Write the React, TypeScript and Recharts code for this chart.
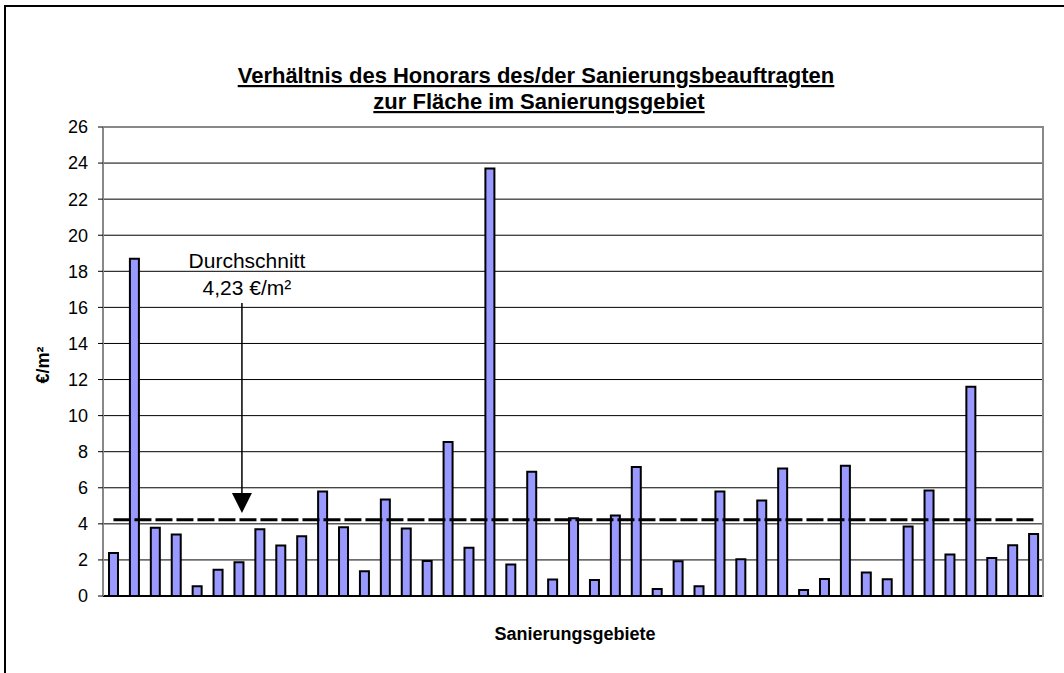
import {
  BarChart,
  Bar,
  XAxis,
  YAxis,
  CartesianGrid,
  ReferenceLine,
  ReferenceDot,
} from "recharts";

const FONT = "'Liberation Sans', Arial, sans-serif";

// Sanierungsgebiete 1..45, Honorar in €/m²
const areas = Array.from({ length: 45 }, (_, i) => String(i + 1));
const values = [
  2.39, 18.7, 3.78, 3.41, 0.54, 1.46, 1.87, 3.7, 2.8, 3.31,
  5.8, 3.81, 1.37, 5.35, 3.74, 1.94, 8.54, 2.67, 23.7, 1.74,
  6.89, 0.91, 4.31, 0.89, 4.46, 7.15, 0.39, 1.93, 0.54, 5.8,
  2.04, 5.3, 7.07, 0.33, 0.94, 7.22, 1.3, 0.93, 3.85, 5.85,
  2.3, 11.6, 2.11, 2.81, 3.44,
];
const yTicks = [0, 2, 4, 6, 8, 10, 12, 14, 16, 18, 20, 22, 24, 26];
const average = 4.23;

const data = areas.map((name, i) => ({ name, value: values[i] }));

const ArrowLine = (props: any) => {
  const { x1, y1, x2, y2 } = props;
  return <line x1={x1 + 3} y1={y1} x2={x2 + 3} y2={y2} stroke="#000" strokeWidth={1.5} />;
};

const ArrowHead = (props: any) => {
  const { cx, cy } = props;
  const x = cx + 3;
  return <polygon points={`${x - 10},${cy - 20} ${x + 10},${cy - 20} ${x},${cy}`} fill="#000" />;
};

const AvgLabel = (props: any) => {
  const { cx, cy } = props;
  return (
    <text x={cx + 8} y={cy} textAnchor="middle" fontFamily={FONT} fontSize={21} fill="#000">
      <tspan x={cx + 8}>Durchschnitt</tspan>
      <tspan x={cx + 8} dy={27}>4,23 €/m²</tspan>
    </text>
  );
};

export default function App() {
  return (
    <div
      style={{
        position: "absolute",
        left: 0,
        top: 0,
        width: 1064,
        height: 673,
        overflow: "hidden",
        background: "#fff",
        fontFamily: FONT,
      }}
    >
      <div
        style={{
          position: "absolute",
          left: 4,
          top: 5,
          width: 1200,
          height: 800,
          border: "2px solid #000",
        }}
      />
      <div style={{ position: "absolute", left: 0, top: 0 }}>
        <BarChart
          width={1064}
          height={673}
          data={data}
          margin={{ top: 127, right: 20, bottom: 76, left: 0 }}
          barCategoryGap={0}
        >
          <CartesianGrid vertical={false} stroke="#000" strokeWidth={1} />
          <XAxis
            dataKey="name"
            tick={false}
            tickLine={false}
            height={1}
            axisLine={{ stroke: "#000", strokeWidth: 2 }}
          />
          <YAxis
            domain={[0, 26]}
            ticks={yTicks}
            interval={0}
            width={103}
            tickSize={5}
            tickMargin={10}
            axisLine={{ stroke: "#888", strokeWidth: 2 }}
            tickLine={{ stroke: "#000" }}
            tick={{ fill: "#000", fontSize: 18, fontFamily: FONT }}
          />
          <ReferenceLine y={26} stroke="#888" strokeWidth={2} />
          <Bar
            dataKey="value"
            fill="#9999FF"
            stroke="#000"
            strokeWidth={2}
            barSize={9}
            isAnimationActive={false}
          />
          <ReferenceLine
            segment={[
              { x: areas[0], y: average },
              { x: areas[areas.length - 1], y: average },
            ]}
            stroke="#000"
            strokeWidth={3}
            strokeDasharray="17 4"
          />
          <ReferenceLine
            segment={[
              { x: areas[6], y: 16.25 },
              { x: areas[6], y: 5.6 },
            ]}
            shape={ArrowLine}
          />
          <ReferenceDot x={areas[6]} y={4.6} shape={ArrowHead} />
          <ReferenceDot x={areas[6]} y={18.17} shape={AvgLabel} />
        </BarChart>
      </div>
      <svg
        width={1064}
        height={673}
        style={{ position: "absolute", left: 0, top: 0, pointerEvents: "none" }}
      >
        {/* plot area frame, right side */}
        <line x1={1043} y1={126} x2={1043} y2={597} stroke="#888" strokeWidth={2} />
        <g fontFamily={FONT} fontWeight="bold" fill="#000">
          <text x={536} y={83} textAnchor="middle" fontSize={22} textDecoration="underline">
            Verhältnis des Honorars des/der Sanierungsbeauftragten
          </text>
          <text x={539} y={109} textAnchor="middle" fontSize={22} textDecoration="underline">
            zur Fläche im Sanierungsgebiet
          </text>
          <text x={575} y={640} textAnchor="middle" fontSize={18}>
            Sanierungsgebiete
          </text>
          <text
            x={0}
            y={0}
            textAnchor="middle"
            fontSize={18}
            transform="translate(49,365) rotate(-90)"
          >
            €/m²
          </text>
        </g>
      </svg>
    </div>
  );
}
